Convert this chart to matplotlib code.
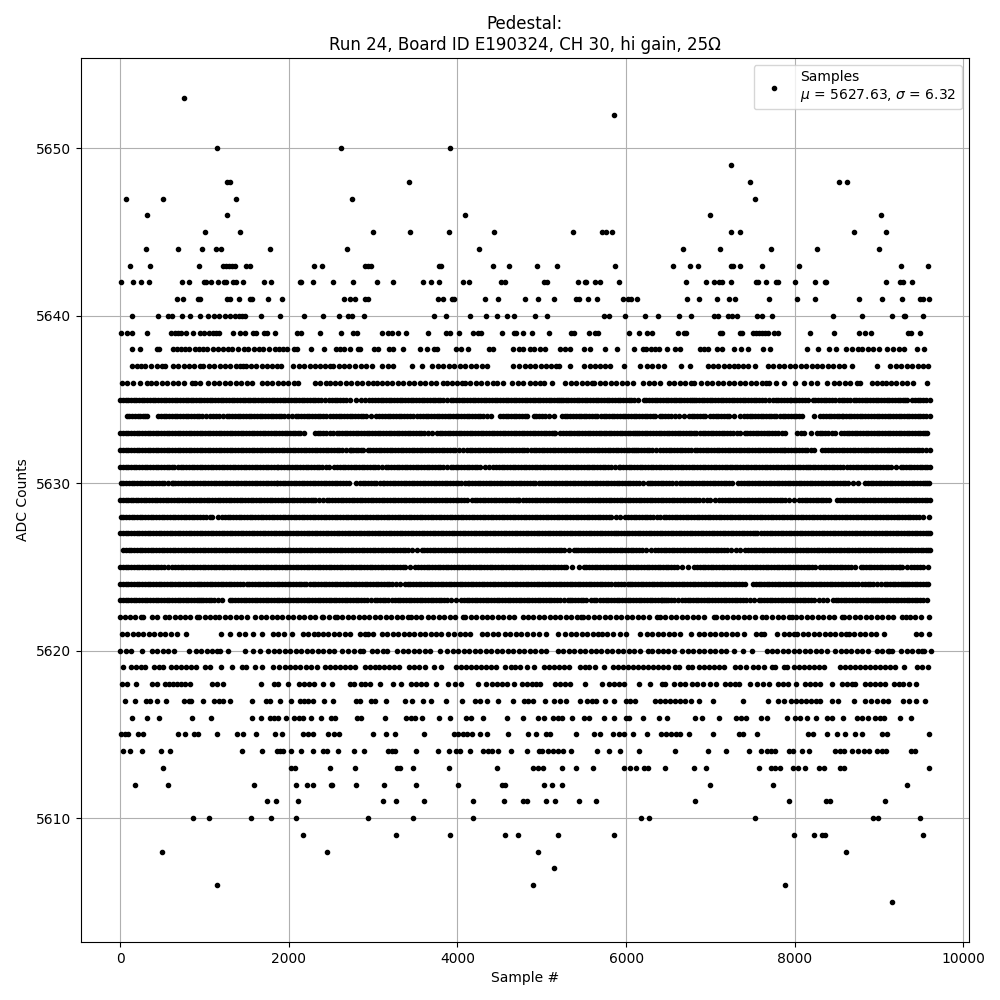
import numpy as np
import matplotlib
matplotlib.use('Agg')
import matplotlib.pyplot as plt

# Sample numbers, one list per ADC count
s5653 = [760]
s5652 = [5860]
s5650 = [1151, 2623, 3916]
s5649 = [7240]
s5648 = [1270, 1301, 3430, 7476, 8520, 8615]
s5647 = [71, 510, 1377, 2753, 7535]
s5646 = [320, 1270, 4094, 7000, 9030]
s5645 = [1009, 1424, 3003, 3442, 3905, 4439, 5365, 5715, 5765, 5830, 7240, 7350, 8700, 9082]
s5644 = [309, 688, 973, 1139, 1199, 1780, 2694, 4261, 6680, 7120, 7720, 8270, 9000]
s5643 = [119, 356, 938, 1222, 1258, 1294, 1329, 1365, 1495, 1543, 2302, 2397, 2908, 2943, 2979,
         3786, 3810, 4427, 4617, 4940, 5177, 5866, 6554, 6756, 6851, 7242, 7266, 7349, 7610, 8049,
         9260, 9580]
s5642 = [12, 154, 249, 344, 735, 818, 996, 1020, 1080, 1163, 1234, 1258, 1341, 1377, 1460, 1709,
         1792, 2132, 2148, 2290, 2528, 2765, 3050, 3240, 3596, 3691, 3786, 4071, 4142, 4522, 4569,
         5023, 5058, 5426, 5510, 5521, 5628, 5687, 5913, 6708, 6945, 7040, 7108, 7135, 7242, 7539,
         7563, 7658, 7776, 7800, 8002, 8239, 8358, 8370, 9082, 9248, 9284, 9390]
s5641 = [676, 748, 926, 949, 1270, 1305, 1412, 1543, 1567, 1757, 1923, 2658, 2730, 2785, 2908, 2943,
         3774, 3833, 3940, 3964, 4332, 4486, 4797, 4952, 5142, 5403, 5438, 5545, 5652, 5960, 6020,
         6055, 6127, 6720, 6862, 7076, 7218, 7290, 7693, 8026, 8239, 8761, 9034, 9272, 9485, 9521,
         9592]
s5640 = [135, 451, 570, 617, 736, 831, 949, 1044, 1116, 1175, 1246, 1305, 1365, 1412, 1448, 1483,
         1673, 1899, 2184, 2409, 2599, 2706, 2753, 2896, 3727, 3869, 4154, 4344, 4474, 4593, 4676,
         4920, 5058, 5735, 5794, 5984, 6222, 6376, 6625, 6775, 7040, 7088, 7206, 7254, 7313, 7551,
         7610, 7729, 8453, 8797, 9153, 9296, 9307, 9521]
s5639 = [12, 83, 142, 320, 605, 653, 688, 724, 783, 866, 949, 997, 1056, 1104, 1139, 1175, 1341, 1424,
         1483, 1578, 1614, 1709, 1745, 1839, 2101, 2148, 2374, 2623, 2765, 2813, 3109, 3181, 3228,
         3299, 3394, 3655, 3869, 3916, 4023, 4189, 4249, 4284, 4533, 4676, 4700, 4783, 4880, 5082,
         5343, 5379, 5557, 5628, 5664, 6032, 6150, 6245, 6305, 6613, 6684, 6708, 7112, 7135, 7349,
         7373, 7503, 7539, 7574, 7610, 7646, 7681, 7752, 7800, 8180, 8465, 8761, 8832, 8903, 9343,
         9379, 9485]
s5638 = [142, 233, 439, 463, 629, 676, 724, 771, 819, 890, 938, 985, 1033, 1104, 1163, 1222, 1282,
         1329, 1400, 1472, 1519, 1590, 1650, 1697, 1768, 1840, 1887, 1934, 1982, 2065, 2101, 2267,
         2421, 2563, 2611, 2658, 2730, 2825, 2848, 3015, 3062, 3192, 3240, 3359, 3560, 3644, 3727,
         3762, 3988, 4047, 4130, 4379, 4427, 4664, 4724, 4783, 4865, 4904, 4983, 5043, 5221, 5280,
         5339, 5498, 5569, 5747, 5889, 6091, 6198, 6233, 6293, 6340, 6388, 6483, 6578, 6637, 6874,
         6922, 6969, 7076, 7135, 7278, 7361, 7444, 7622, 7705, 8144, 8275, 8405, 8488, 8607, 8678,
         8749, 8797, 8868, 8928, 8999, 9098, 9165, 9236, 9296, 9450, 9533]
s5637 = [135, 202, 250, 293, 364, 439, 490, 530, 629, 690, 750, 810, 880, 945, 985, 1050, 1115, 1180,
         1240, 1305, 1370, 1420, 1460, 1487, 1550, 1610, 1680, 1737, 1804, 1860, 1903, 2053, 2115,
         2180, 2245, 2310, 2375, 2430, 2488, 2528, 2590, 2650, 2715, 2780, 2850, 2920, 2983, 3109,
         3170, 3240, 3457, 3576, 3703, 3770, 3830, 3900, 3960, 4031, 4095, 4160, 4225, 4290, 4348,
         4664, 4735, 4800, 4862, 4925, 4990, 5050, 5110, 5170, 5201, 5331, 5505, 5570, 5630, 5690,
         5750, 5806, 5972, 6162, 6249, 6310, 6380, 6447, 6649, 6756, 6969, 7030, 7095, 7160, 7220,
         7280, 7325, 7385, 7450, 7527, 7681, 7745, 7810, 7875, 7940, 8005, 8070, 8135, 8200, 8265,
         8330, 8395, 8460, 8525, 8590, 8682, 8975, 9129, 9200, 9265, 9330, 9395, 9460, 9525, 9580]
s5636 = [24, 85, 150, 233, 320, 370, 423, 494, 560, 625, 690, 755, 846, 886, 950, 1044, 1112, 1175,
         1240, 1305, 1370, 1435, 1500, 1565, 1677, 1737, 1800, 1865, 1930, 1995, 2060, 2113, 2310,
         2375, 2435, 2488, 2547, 2610, 2675, 2740, 2805, 2870, 2935, 3003, 3050, 3105, 3161, 3224,
         3290, 3355, 3420, 3485, 3550, 3615, 3680, 3745, 3833, 3873, 3930, 3990, 4051, 4091, 4150,
         4215, 4280, 4345, 4427, 4474, 4545, 4652, 4715, 4780, 4862, 4924, 4983, 5023, 5122, 5280,
         5345, 5410, 5475, 5540, 5596, 5624, 5690, 5755, 5820, 5885, 5950, 6012, 6083, 6198, 6269,
         6335, 6407, 6506, 6570, 6635, 6700, 6765, 6811, 6894, 6960, 7025, 7090, 7155, 7220, 7285,
         7350, 7415, 7480, 7545, 7610, 7654, 7693, 7784, 7879, 7998, 8108, 8188, 8259, 8386, 8465,
         8530, 8595, 8660, 8742, 8773, 8912, 8975, 9038, 9078, 9140, 9205, 9270, 9327, 9402, 9568]
s5635 = [0, 35, 65, 97, 130, 160, 190, 222, 255, 287, 320, 352, 385, 417, 450, 482, 515, 547, 580, 612,
         645, 677, 710, 742, 775, 805, 835, 866, 898, 930, 962, 995, 1027, 1060, 1092, 1125, 1157,
         1190, 1222, 1255, 1287, 1320, 1352, 1385, 1417, 1450, 1482, 1515, 1542, 1570, 1602, 1633,
         1665, 1697, 1730, 1762, 1795, 1827, 1860, 1892, 1925, 1957, 1990, 2022, 2055, 2087, 2120,
         2152, 2185, 2217, 2250, 2282, 2315, 2347, 2380, 2430, 2480, 2512, 2543, 2575, 2607, 2640,
         2683, 2726, 2793, 2856, 2905, 2947, 2991, 3023, 3055, 3087, 3120, 3152, 3185, 3217, 3250,
         3282, 3315, 3347, 3380, 3412, 3445, 3477, 3510, 3542, 3575, 3607, 3640, 3672, 3705, 3737,
         3770, 3797, 3825, 3873, 3920, 3952, 3985, 4017, 4050, 4082, 4115, 4147, 4180, 4212, 4245,
         4277, 4310, 4342, 4375, 4407, 4440, 4472, 4505, 4537, 4570, 4602, 4635, 4667, 4700, 4732,
         4765, 4797, 4830, 4862, 4895, 4923, 4952, 4983, 5016, 5050, 5082, 5115, 5147, 5180, 5204,
         5229, 5252, 5283, 5315, 5347, 5380, 5412, 5445, 5477, 5510, 5542, 5575, 5607, 5640, 5672,
         5705, 5737, 5770, 5802, 5835, 5867, 5900, 5932, 5965, 5997, 6030, 6060, 6091, 6138, 6210,
         6242, 6275, 6307, 6340, 6372, 6405, 6437, 6470, 6502, 6535, 6566, 6597, 6625, 6657, 6690,
         6722, 6755, 6779, 6803, 6830, 6862, 6895, 6927, 6960, 6992, 7025, 7057, 7090, 7122, 7155,
         7187, 7220, 7252, 7285, 7317, 7350, 7382, 7415, 7447, 7480, 7512, 7545, 7577, 7610, 7651,
         7693, 7744, 7775, 7805, 7837, 7870, 7906, 7942, 7958, 7989, 8020, 8052, 8085, 8120, 8156,
         8215, 8247, 8280, 8312, 8345, 8377, 8410, 8447, 8484, 8524, 8557, 8590, 8626, 8662, 8702,
         8733, 8765, 8797, 8830, 8862, 8895, 8927, 8960, 8992, 9025, 9057, 9090, 9122, 9155, 9187,
         9220, 9252, 9285, 9310, 9335, 9394, 9427, 9460, 9492, 9525, 9562, 9600]
s5634 = [75, 107, 140, 172, 205, 235, 265, 292, 320, 451, 483, 515, 547, 580, 612, 645, 677, 710, 742,
         775, 807, 840, 872, 905, 937, 970, 1017, 1064, 1104, 1137, 1170, 1216, 1262, 1294, 1327, 1360,
         1392, 1425, 1457, 1490, 1522, 1555, 1587, 1620, 1652, 1685, 1717, 1750, 1782, 1815, 1847,
         1880, 1912, 1945, 1989, 2033, 2081, 2113, 2145, 2177, 2210, 2242, 2275, 2307, 2340, 2372,
         2405, 2446, 2488, 2528, 2560, 2592, 2624, 2657, 2689, 2722, 2754, 2787, 2819, 2852, 2884,
         2917, 2975, 3034, 3074, 3107, 3140, 3172, 3205, 3237, 3270, 3302, 3335, 3367, 3400, 3438,
         3477, 3525, 3557, 3590, 3622, 3655, 3687, 3720, 3752, 3785, 3817, 3850, 3882, 3915, 3947,
         3980, 4012, 4045, 4077, 4110, 4142, 4175, 4207, 4240, 4272, 4305, 4350, 4395, 4506, 4538,
         4570, 4602, 4635, 4667, 4700, 4732, 4765, 4797, 4830, 4904, 4937, 4970, 5002, 5035, 5088,
         5142, 5240, 5272, 5305, 5337, 5370, 5404, 5438, 5466, 5498, 5530, 5562, 5595, 5627, 5660,
         5701, 5743, 5767, 5798, 5830, 5862, 5895, 5927, 5960, 5992, 6025, 6057, 6090, 6122, 6155,
         6187, 6220, 6252, 6285, 6316, 6348, 6400, 6432, 6465, 6497, 6530, 6579, 6629, 6692, 6744,
         6777, 6810, 6842, 6875, 6907, 6940, 6993, 7029, 7062, 7095, 7127, 7160, 7193, 7226, 7286,
         7357, 7396, 7436, 7468, 7499, 7530, 7562, 7595, 7627, 7660, 7692, 7725, 7754, 7784, 7824,
         7857, 7890, 7922, 7955, 7987, 8020, 8054, 8089, 8227, 8306, 8338, 8370, 8402, 8435, 8467,
         8500, 8531, 8563, 8575, 8607, 8640, 8672, 8705, 8737, 8770, 8802, 8835, 8871, 8907, 8939,
         8972, 9005, 9037, 9070, 9102, 9135, 9167, 9200, 9232, 9265, 9297, 9330, 9362, 9395, 9427,
         9460, 9492, 9525, 9562, 9600]
s5633 = [0, 31, 62, 95, 128, 160, 193, 225, 258, 290, 323, 355, 388, 420, 453, 485, 518, 550, 583, 615,
         648, 680, 713, 745, 778, 810, 843, 875, 908, 940, 973, 1005, 1038, 1070, 1103, 1135, 1168,
         1200, 1233, 1265, 1298, 1330, 1363, 1395, 1428, 1460, 1493, 1525, 1558, 1590, 1623, 1655,
         1688, 1720, 1753, 1785, 1818, 1850, 1883, 1915, 1948, 1980, 2013, 2045, 2078, 2105, 2132,
         2180, 2310, 2342, 2375, 2407, 2440, 2484, 2528, 2567, 2598, 2630, 2662, 2695, 2727, 2760,
         2792, 2825, 2857, 2890, 2922, 2955, 2987, 3020, 3052, 3085, 3117, 3150, 3182, 3215, 3247,
         3280, 3312, 3345, 3377, 3410, 3442, 3475, 3507, 3540, 3572, 3605, 3650, 3695, 3754, 3787,
         3820, 3852, 3885, 3917, 3950, 3982, 4015, 4047, 4080, 4112, 4145, 4177, 4210, 4242, 4275,
         4307, 4340, 4372, 4405, 4437, 4470, 4502, 4535, 4567, 4600, 4632, 4665, 4697, 4730, 4762,
         4795, 4828, 4862, 4893, 4925, 4957, 4990, 5022, 5055, 5087, 5120, 5140, 5161, 5221, 5253,
         5285, 5317, 5350, 5382, 5415, 5447, 5480, 5512, 5545, 5577, 5610, 5642, 5675, 5705, 5735,
         5759, 5792, 5825, 5857, 5890, 5922, 5955, 5987, 6020, 6052, 6085, 6107, 6130, 6150, 6185,
         6220, 6254, 6289, 6320, 6352, 6385, 6417, 6450, 6482, 6515, 6547, 6580, 6612, 6645, 6677,
         6710, 6742, 6775, 6805, 6835, 6874, 6907, 6940, 6972, 7005, 7037, 7070, 7102, 7135, 7167,
         7200, 7232, 7265, 7311, 7357, 7408, 7440, 7472, 7504, 7537, 7569, 7602, 7634, 7667, 7699,
         7732, 7764, 7797, 7844, 7891, 8022, 8070, 8108, 8188, 8267, 8298, 8330, 8362, 8395, 8439,
         8484, 8551, 8583, 8615, 8647, 8680, 8712, 8745, 8777, 8810, 8842, 8875, 8907, 8940, 8972,
         9005, 9037, 9070, 9102, 9135, 9167, 9200, 9232, 9265, 9297, 9330, 9362, 9395, 9427, 9460,
         9492, 9525, 9548, 9572]
s5632 = [0, 31, 63, 95, 128, 160, 193, 225, 258, 290, 323, 355, 388, 420, 453, 485, 518, 550, 583, 615,
         648, 680, 713, 745, 778, 810, 843, 875, 908, 940, 973, 1005, 1038, 1070, 1103, 1135, 1168,
         1200, 1233, 1265, 1298, 1330, 1363, 1395, 1428, 1460, 1493, 1525, 1558, 1590, 1622, 1655,
         1687, 1720, 1752, 1785, 1817, 1850, 1882, 1915, 1947, 1980, 2012, 2045, 2077, 2110, 2142,
         2175, 2207, 2240, 2272, 2305, 2337, 2370, 2402, 2435, 2467, 2500, 2532, 2565, 2597, 2630,
         2678, 2726, 2734, 2765, 2795, 2825, 2852, 2884, 2935, 2967, 3000, 3032, 3065, 3097, 3130,
         3162, 3195, 3227, 3260, 3292, 3325, 3357, 3390, 3422, 3455, 3487, 3520, 3552, 3585, 3617,
         3650, 3682, 3715, 3747, 3780, 3812, 3845, 3877, 3910, 3942, 3975, 4019, 4063, 4111, 4143,
         4175, 4207, 4240, 4272, 4305, 4337, 4370, 4402, 4435, 4467, 4500, 4532, 4565, 4597, 4630,
         4662, 4695, 4727, 4760, 4792, 4825, 4868, 4912, 4936, 4968, 5000, 5032, 5065, 5097, 5130,
         5162, 5195, 5227, 5260, 5292, 5325, 5357, 5390, 5422, 5455, 5487, 5520, 5552, 5585, 5617,
         5650, 5682, 5715, 5747, 5780, 5812, 5845, 5877, 5910, 5942, 5975, 6007, 6040, 6065, 6091,
         6115, 6147, 6180, 6212, 6245, 6277, 6310, 6355, 6400, 6439, 6472, 6505, 6537, 6570, 6602,
         6635, 6667, 6700, 6737, 6775, 6815, 6847, 6880, 6912, 6945, 6977, 7010, 7045, 7080, 7108,
         7140, 7172, 7204, 7237, 7269, 7302, 7334, 7367, 7399, 7432, 7464, 7497, 7529, 7562, 7594,
         7627, 7659, 7692, 7724, 7757, 7789, 7822, 7846, 7871, 7891, 7923, 7955, 7987, 8020, 8052,
         8085, 8117, 8150, 8188, 8227, 8330, 8362, 8395, 8427, 8460, 8492, 8525, 8557, 8590, 8622,
         8655, 8687, 8720, 8752, 8785, 8817, 8850, 8875, 8900, 8928, 8960, 8993, 9025, 9058, 9090,
         9123, 9155, 9188, 9220, 9253, 9285, 9318, 9350, 9383, 9415, 9448, 9480, 9513, 9556, 9600]
s5631 = [0, 31, 62, 95, 127, 160, 192, 225, 257, 290, 322, 355, 387, 420, 452, 485, 517, 550, 582, 610,
         637, 684, 716, 748, 780, 813, 845, 878, 910, 943, 975, 1008, 1040, 1073, 1105, 1138, 1170,
         1203, 1235, 1268, 1300, 1333, 1365, 1398, 1430, 1463, 1495, 1528, 1560, 1593, 1625, 1658,
         1690, 1723, 1755, 1788, 1822, 1855, 1875, 1907, 1940, 1972, 2005, 2037, 2070, 2102, 2135,
         2167, 2200, 2232, 2265, 2297, 2330, 2362, 2395, 2437, 2480, 2540, 2572, 2605, 2637, 2670,
         2702, 2735, 2767, 2800, 2832, 2865, 2897, 2930, 2962, 2995, 3027, 3060, 3105, 3149, 3181,
         3213, 3245, 3277, 3310, 3342, 3375, 3407, 3440, 3472, 3505, 3537, 3570, 3602, 3635, 3667,
         3700, 3732, 3765, 3797, 3830, 3875, 3920, 3944, 3977, 4010, 4042, 4075, 4107, 4140, 4172,
         4205, 4237, 4270, 4325, 4379, 4427, 4459, 4492, 4524, 4557, 4589, 4622, 4654, 4687, 4719,
         4752, 4784, 4817, 4849, 4882, 4914, 4947, 4979, 5012, 5044, 5077, 5109, 5142, 5174, 5207,
         5239, 5272, 5304, 5337, 5369, 5402, 5434, 5467, 5499, 5532, 5564, 5596, 5624, 5657, 5690,
         5722, 5755, 5787, 5820, 5866, 5913, 5933, 5965, 5998, 6030, 6063, 6095, 6128, 6160, 6193,
         6225, 6258, 6290, 6323, 6355, 6388, 6420, 6453, 6485, 6518, 6550, 6583, 6615, 6648, 6680,
         6713, 6745, 6778, 6810, 6843, 6875, 6908, 6940, 6973, 7005, 7038, 7070, 7103, 7135, 7168,
         7203, 7238, 7254, 7287, 7320, 7352, 7385, 7417, 7450, 7482, 7515, 7547, 7580, 7612, 7645,
         7677, 7710, 7742, 7775, 7807, 7840, 7872, 7905, 7937, 7970, 8002, 8035, 8067, 8100, 8132,
         8164, 8180, 8212, 8245, 8277, 8310, 8342, 8375, 8407, 8440, 8472, 8505, 8537, 8570, 8616,
         8662, 8690, 8722, 8755, 8787, 8820, 8852, 8885, 8917, 8950, 8982, 9015, 9047, 9080, 9112,
         9145, 9200, 9256, 9288, 9320, 9353, 9385, 9418, 9450, 9483, 9515, 9548, 9574, 9600]
s5630 = [4, 36, 68, 100, 133, 165, 198, 230, 263, 295, 328, 360, 393, 425, 458, 490, 523, 566, 609, 621,
         653, 685, 717, 750, 782, 815, 847, 880, 912, 945, 977, 1010, 1042, 1075, 1107, 1140, 1172,
         1205, 1237, 1270, 1302, 1335, 1367, 1400, 1432, 1465, 1497, 1530, 1562, 1595, 1627, 1660,
         1692, 1725, 1757, 1790, 1822, 1855, 1863, 1894, 1925, 1957, 1990, 2022, 2055, 2087, 2120,
         2152, 2185, 2217, 2250, 2282, 2315, 2347, 2380, 2412, 2445, 2477, 2510, 2542, 2575, 2607,
         2640, 2679, 2718, 2793, 2844, 2876, 2908, 2940, 2973, 3005, 3038, 3079, 3121, 3133, 3165,
         3198, 3230, 3263, 3295, 3328, 3360, 3393, 3425, 3458, 3490, 3523, 3555, 3588, 3620, 3653,
         3685, 3718, 3750, 3783, 3815, 3848, 3880, 3913, 3945, 3978, 4010, 4043, 4086, 4130, 4142,
         4174, 4207, 4239, 4272, 4304, 4337, 4369, 4402, 4434, 4467, 4499, 4532, 4564, 4597, 4629,
         4662, 4694, 4727, 4759, 4792, 4827, 4862, 4893, 4925, 4964, 5003, 5043, 5075, 5108, 5140,
         5173, 5205, 5238, 5270, 5303, 5335, 5368, 5400, 5433, 5465, 5498, 5530, 5563, 5595, 5628,
         5660, 5693, 5725, 5758, 5790, 5823, 5855, 5888, 5920, 5953, 5985, 6018, 6050, 6083, 6115,
         6148, 6202, 6257, 6281, 6313, 6346, 6378, 6411, 6443, 6476, 6508, 6541, 6593, 6645, 6669,
         6701, 6734, 6766, 6799, 6831, 6864, 6896, 6929, 6961, 6994, 7026, 7059, 7091, 7124, 7156,
         7189, 7225, 7262, 7333, 7365, 7398, 7430, 7463, 7495, 7528, 7560, 7593, 7625, 7658, 7690,
         7723, 7755, 7788, 7820, 7853, 7885, 7918, 7950, 7983, 8015, 8048, 8080, 8113, 8145, 8178,
         8210, 8243, 8275, 8308, 8340, 8373, 8405, 8438, 8470, 8503, 8535, 8568, 8600, 8633, 8691,
         8749, 8836, 8868, 8900, 8932, 8965, 8997, 9030, 9062, 9095, 9127, 9160, 9192, 9225, 9257,
         9290, 9322, 9355, 9387, 9420, 9452, 9485, 9517, 9550, 9571, 9592]
s5629 = [0, 31, 62, 93, 125, 155, 186, 214, 246, 278, 310, 343, 375, 408, 440, 473, 505, 538, 570, 603,
         635, 668, 700, 733, 765, 798, 830, 863, 895, 928, 960, 993, 1025, 1058, 1090, 1123, 1155,
         1188, 1220, 1253, 1285, 1318, 1350, 1383, 1415, 1448, 1480, 1513, 1545, 1578, 1610, 1643,
         1675, 1708, 1740, 1773, 1805, 1838, 1870, 1903, 1935, 1968, 2000, 2033, 2065, 2098, 2130,
         2163, 2195, 2228, 2259, 2290, 2310, 2360, 2401, 2449, 2480, 2510, 2545, 2580, 2614, 2647,
         2678, 2710, 2743, 2775, 2808, 2840, 2873, 2905, 2938, 2970, 3003, 3035, 3068, 3100, 3133,
         3165, 3198, 3230, 3263, 3295, 3328, 3360, 3393, 3425, 3458, 3490, 3523, 3555, 3588, 3620,
         3653, 3685, 3718, 3750, 3783, 3815, 3848, 3880, 3913, 3945, 3978, 4010, 4043, 4077, 4111,
         4170, 4202, 4235, 4267, 4300, 4332, 4365, 4397, 4430, 4462, 4495, 4527, 4560, 4592, 4625,
         4657, 4690, 4712, 4735, 4783, 4817, 4850, 4882, 4915, 4947, 4980, 5012, 5045, 5077, 5110,
         5142, 5175, 5207, 5240, 5272, 5305, 5337, 5370, 5402, 5435, 5467, 5500, 5532, 5565, 5597,
         5630, 5662, 5695, 5727, 5760, 5792, 5825, 5857, 5890, 5922, 5955, 5987, 6020, 6052, 6085,
         6117, 6150, 6182, 6215, 6247, 6280, 6312, 6345, 6377, 6410, 6442, 6475, 6507, 6540, 6572,
         6605, 6637, 6670, 6702, 6735, 6767, 6800, 6832, 6865, 6915, 6965, 6997, 7060, 7108, 7140,
         7172, 7204, 7237, 7269, 7302, 7334, 7367, 7399, 7432, 7464, 7497, 7529, 7562, 7594, 7627,
         7659, 7692, 7724, 7757, 7789, 7822, 7854, 7887, 7938, 7990, 8053, 8085, 8118, 8150, 8183,
         8215, 8248, 8280, 8313, 8341, 8370, 8409, 8504, 8536, 8568, 8600, 8633, 8665, 8698, 8730,
         8763, 8795, 8828, 8860, 8893, 8925, 8958, 8990, 9023, 9055, 9088, 9120, 9153, 9185, 9218,
         9250, 9283, 9315, 9348, 9380, 9413, 9445, 9478, 9510, 9543, 9571, 9600]
s5628 = [4, 36, 68, 100, 133, 165, 198, 230, 263, 295, 328, 360, 393, 425, 458, 490, 523, 555, 588, 620,
         653, 685, 718, 750, 783, 815, 848, 880, 913, 945, 978, 1021, 1064, 1092, 1159, 1210, 1242,
         1275, 1307, 1340, 1372, 1405, 1437, 1470, 1502, 1535, 1567, 1600, 1632, 1665, 1697, 1730,
         1762, 1795, 1827, 1860, 1892, 1925, 1957, 1990, 2022, 2055, 2087, 2120, 2152, 2185, 2217,
         2250, 2282, 2315, 2347, 2380, 2412, 2445, 2477, 2510, 2542, 2575, 2607, 2640, 2672, 2705,
         2737, 2770, 2802, 2835, 2867, 2900, 2932, 2965, 2997, 3030, 3062, 3095, 3127, 3160, 3192,
         3225, 3257, 3290, 3322, 3355, 3387, 3420, 3452, 3485, 3517, 3550, 3582, 3615, 3647, 3680,
         3712, 3745, 3777, 3810, 3842, 3875, 3907, 3940, 3972, 4005, 4037, 4070, 4102, 4135, 4167,
         4200, 4232, 4265, 4297, 4330, 4362, 4395, 4427, 4460, 4492, 4525, 4557, 4590, 4622, 4655,
         4687, 4720, 4752, 4785, 4817, 4850, 4882, 4915, 4947, 4980, 5012, 5045, 5077, 5110, 5142,
         5175, 5207, 5240, 5272, 5305, 5337, 5370, 5402, 5435, 5467, 5500, 5532, 5565, 5597, 5630,
         5662, 5695, 5727, 5760, 5792, 5825, 5879, 5933, 5992, 6024, 6057, 6089, 6122, 6154, 6187,
         6219, 6252, 6284, 6317, 6362, 6407, 6447, 6479, 6512, 6544, 6577, 6609, 6642, 6674, 6707,
         6739, 6772, 6804, 6837, 6869, 6902, 6934, 6967, 6999, 7032, 7064, 7097, 7129, 7162, 7194,
         7227, 7259, 7292, 7324, 7357, 7389, 7422, 7454, 7487, 7519, 7552, 7584, 7617, 7649, 7682,
         7714, 7747, 7779, 7812, 7844, 7877, 7909, 7942, 7974, 8007, 8039, 8072, 8104, 8137, 8169,
         8202, 8234, 8267, 8299, 8332, 8364, 8397, 8429, 8462, 8494, 8527, 8559, 8592, 8624, 8657,
         8689, 8722, 8754, 8787, 8819, 8852, 8884, 8917, 8949, 8982, 9014, 9047, 9079, 9112, 9144,
         9177, 9209, 9242, 9274, 9307, 9339, 9372, 9404, 9437, 9477, 9517, 9596]
s5627 = [0, 32, 64, 96, 129, 161, 194, 226, 259, 291, 324, 356, 389, 421, 454, 486, 519, 551, 584, 616,
         649, 681, 714, 746, 779, 811, 844, 876, 909, 941, 974, 1006, 1039, 1071, 1104, 1136, 1169,
         1201, 1234, 1266, 1299, 1331, 1364, 1396, 1429, 1461, 1494, 1526, 1559, 1591, 1624, 1656,
         1689, 1721, 1754, 1786, 1819, 1851, 1884, 1916, 1949, 1981, 2014, 2046, 2079, 2111, 2144,
         2176, 2209, 2241, 2274, 2306, 2339, 2371, 2404, 2436, 2469, 2501, 2534, 2566, 2599, 2631,
         2664, 2696, 2729, 2761, 2794, 2826, 2859, 2891, 2924, 2956, 2989, 3021, 3054, 3086, 3119,
         3151, 3184, 3216, 3249, 3281, 3314, 3346, 3379, 3411, 3444, 3476, 3509, 3541, 3574, 3606,
         3639, 3671, 3704, 3736, 3769, 3801, 3834, 3866, 3899, 3931, 3964, 3996, 4029, 4061, 4094,
         4126, 4159, 4191, 4224, 4256, 4289, 4321, 4354, 4386, 4419, 4451, 4484, 4516, 4549, 4581,
         4614, 4646, 4679, 4711, 4744, 4776, 4809, 4841, 4874, 4906, 4939, 4971, 5004, 5036, 5069,
         5101, 5134, 5166, 5199, 5231, 5264, 5296, 5329, 5361, 5394, 5426, 5459, 5491, 5524, 5556,
         5589, 5621, 5654, 5686, 5719, 5751, 5784, 5823, 5862, 5877, 5909, 5942, 5974, 6007, 6039,
         6072, 6104, 6137, 6169, 6202, 6234, 6267, 6299, 6332, 6364, 6397, 6429, 6462, 6494, 6527,
         6559, 6592, 6624, 6657, 6689, 6722, 6754, 6787, 6819, 6852, 6884, 6917, 6949, 6982, 7014,
         7047, 7079, 7112, 7144, 7177, 7209, 7242, 7274, 7307, 7339, 7372, 7404, 7437, 7469, 7502,
         7528, 7555, 7606, 7638, 7670, 7702, 7735, 7767, 7800, 7832, 7865, 7897, 7930, 7962, 7995,
         8027, 8060, 8092, 8125, 8157, 8190, 8222, 8255, 8287, 8320, 8352, 8385, 8417, 8450, 8482,
         8515, 8547, 8580, 8612, 8645, 8677, 8710, 8742, 8775, 8807, 8840, 8872, 8905, 8937, 8970,
         9002, 9035, 9067, 9100, 9132, 9165, 9197, 9230, 9262, 9295, 9327, 9360, 9392, 9425, 9457,
         9490, 9522, 9555, 9577, 9600]
s5626 = [36, 68, 100, 132, 165, 197, 230, 262, 295, 327, 360, 392, 425, 457, 490, 522, 555, 587, 620,
         652, 685, 717, 750, 782, 815, 847, 880, 912, 945, 977, 1010, 1042, 1075, 1107, 1140, 1172,
         1205, 1237, 1270, 1302, 1335, 1367, 1400, 1432, 1465, 1497, 1530, 1562, 1595, 1627, 1660,
         1692, 1725, 1757, 1790, 1822, 1855, 1887, 1920, 1952, 1985, 2017, 2050, 2082, 2115, 2147,
         2180, 2212, 2245, 2277, 2310, 2342, 2375, 2407, 2440, 2472, 2505, 2537, 2570, 2602, 2635,
         2667, 2700, 2732, 2765, 2797, 2830, 2862, 2895, 2927, 2960, 2992, 3025, 3057, 3090, 3122,
         3155, 3187, 3220, 3252, 3285, 3317, 3350, 3382, 3415, 3466, 3517, 3576, 3608, 3640, 3672,
         3705, 3737, 3770, 3802, 3835, 3867, 3900, 3932, 3965, 3997, 4030, 4062, 4095, 4127, 4160,
         4192, 4225, 4257, 4290, 4322, 4355, 4387, 4420, 4452, 4485, 4517, 4550, 4582, 4615, 4647,
         4680, 4712, 4745, 4777, 4810, 4842, 4875, 4907, 4940, 4972, 5005, 5037, 5070, 5102, 5135,
         5167, 5200, 5232, 5265, 5322, 5379, 5403, 5435, 5468, 5500, 5533, 5565, 5598, 5630, 5663,
         5695, 5728, 5760, 5793, 5825, 5858, 5890, 5923, 5955, 5988, 6020, 6053, 6085, 6118, 6150,
         6183, 6242, 6301, 6348, 6380, 6412, 6444, 6477, 6509, 6542, 6574, 6607, 6639, 6672, 6704,
         6737, 6769, 6802, 6834, 6867, 6899, 6932, 6964, 6997, 7029, 7062, 7094, 7127, 7159, 7192,
         7250, 7309, 7349, 7416, 7448, 7480, 7512, 7545, 7577, 7610, 7642, 7675, 7707, 7740, 7772,
         7805, 7837, 7870, 7902, 7935, 7967, 8000, 8032, 8065, 8097, 8130, 8162, 8195, 8227, 8260,
         8292, 8325, 8357, 8390, 8422, 8455, 8487, 8520, 8552, 8585, 8617, 8650, 8682, 8715, 8747,
         8780, 8812, 8845, 8877, 8910, 8942, 8975, 9007, 9040, 9072, 9105, 9137, 9170, 9202, 9235,
         9267, 9300, 9332, 9365, 9397, 9430, 9462, 9495, 9527, 9560, 9580, 9600]
s5625 = [0, 31, 63, 95, 128, 160, 193, 225, 258, 290, 323, 355, 388, 420, 453, 485, 518, 563, 609, 653,
         684, 716, 748, 781, 813, 846, 878, 911, 943, 976, 1008, 1041, 1073, 1106, 1138, 1171, 1203,
         1236, 1268, 1301, 1333, 1366, 1398, 1431, 1463, 1496, 1528, 1561, 1593, 1626, 1658, 1691,
         1723, 1756, 1788, 1821, 1853, 1886, 1918, 1951, 1983, 2016, 2048, 2081, 2113, 2146, 2178,
         2211, 2243, 2276, 2308, 2341, 2373, 2406, 2438, 2471, 2503, 2536, 2568, 2601, 2633, 2666,
         2698, 2731, 2763, 2796, 2828, 2861, 2893, 2926, 2958, 2991, 3023, 3056, 3088, 3121, 3153,
         3186, 3218, 3251, 3283, 3316, 3348, 3381, 3439, 3497, 3537, 3569, 3601, 3633, 3666, 3698,
         3731, 3763, 3796, 3828, 3861, 3893, 3926, 3958, 3991, 4023, 4056, 4088, 4121, 4153, 4186,
         4218, 4251, 4283, 4316, 4348, 4381, 4413, 4446, 4478, 4511, 4543, 4576, 4608, 4641, 4673,
         4706, 4738, 4771, 4803, 4836, 4868, 4901, 4933, 4966, 4998, 5031, 5063, 5096, 5128, 5161,
         5193, 5226, 5259, 5292, 5355, 5446, 5497, 5529, 5561, 5593, 5626, 5658, 5691, 5723, 5756,
         5788, 5821, 5853, 5886, 5918, 5951, 5983, 6016, 6048, 6081, 6113, 6146, 6178, 6211, 6243,
         6276, 6308, 6341, 6373, 6406, 6438, 6471, 6503, 6536, 6568, 6601, 6668, 6736, 6811, 6843,
         6875, 6907, 6940, 6972, 7005, 7037, 7070, 7102, 7135, 7167, 7200, 7232, 7265, 7297, 7330,
         7362, 7395, 7427, 7460, 7492, 7525, 7557, 7590, 7622, 7655, 7687, 7720, 7752, 7785, 7817,
         7850, 7882, 7915, 7947, 7980, 8012, 8045, 8077, 8110, 8142, 8175, 8211, 8247, 8306, 8338,
         8370, 8402, 8435, 8467, 8500, 8532, 8565, 8597, 8630, 8670, 8710, 8781, 8813, 8845, 8877,
         8910, 8942, 8975, 9007, 9040, 9072, 9105, 9137, 9170, 9202, 9235, 9255, 9276, 9327, 9382,
         9416, 9450, 9487, 9525, 9580]
s5624 = [0, 32, 64, 96, 129, 161, 194, 226, 259, 291, 324, 356, 389, 421, 454, 486, 519, 551, 584, 616,
         649, 681, 714, 746, 779, 811, 844, 875, 906, 930, 962, 994, 1026, 1059, 1091, 1124, 1156,
         1189, 1221, 1254, 1286, 1319, 1351, 1384, 1422, 1460, 1499, 1531, 1563, 1595, 1628, 1660,
         1693, 1725, 1758, 1790, 1823, 1855, 1888, 1920, 1953, 1985, 2018, 2050, 2083, 2115, 2148,
         2176, 2204, 2251, 2283, 2315, 2347, 2380, 2412, 2445, 2477, 2510, 2542, 2575, 2607, 2640,
         2672, 2705, 2737, 2770, 2802, 2835, 2867, 2900, 2932, 2965, 2997, 3030, 3062, 3095, 3127,
         3160, 3192, 3225, 3272, 3319, 3378, 3410, 3442, 3474, 3507, 3539, 3572, 3604, 3637, 3669,
         3702, 3734, 3767, 3799, 3832, 3864, 3897, 3929, 3962, 3994, 4027, 4059, 4092, 4124, 4157,
         4189, 4222, 4254, 4287, 4319, 4352, 4384, 4417, 4449, 4482, 4514, 4547, 4579, 4612, 4644,
         4677, 4710, 4743, 4778, 4810, 4842, 4874, 4907, 4939, 4972, 5004, 5037, 5069, 5102, 5134,
         5167, 5199, 5232, 5264, 5297, 5329, 5362, 5394, 5427, 5459, 5492, 5524, 5557, 5589, 5622,
         5654, 5687, 5719, 5752, 5787, 5822, 5873, 5905, 5937, 5978, 6020, 6043, 6075, 6107, 6139,
         6172, 6204, 6237, 6269, 6302, 6334, 6367, 6399, 6432, 6464, 6497, 6529, 6562, 6594, 6627,
         6659, 6692, 6724, 6757, 6789, 6822, 6854, 6887, 6919, 6952, 6984, 7017, 7049, 7082, 7114,
         7147, 7179, 7212, 7244, 7277, 7309, 7342, 7379, 7416, 7507, 7539, 7571, 7603, 7636, 7668,
         7701, 7733, 7766, 7798, 7831, 7863, 7896, 7928, 7961, 7993, 8026, 8058, 8091, 8123, 8156,
         8188, 8221, 8253, 8286, 8318, 8351, 8383, 8416, 8448, 8481, 8513, 8546, 8578, 8611, 8643,
         8676, 8712, 8749, 8800, 8832, 8864, 8896, 8929, 8977, 9026, 9066, 9098, 9130, 9162, 9195,
         9227, 9260, 9281, 9303, 9327, 9359, 9391, 9423, 9456, 9488, 9521, 9553, 9586]
s5623 = [0, 31, 62, 94, 127, 159, 192, 224, 257, 289, 322, 354, 387, 419, 452, 484, 517, 549, 582, 614,
         647, 679, 712, 744, 777, 809, 842, 874, 907, 930, 954, 985, 1017, 1049, 1081, 1114, 1158,
         1203, 1302, 1331, 1361, 1400, 1432, 1464, 1496, 1529, 1561, 1594, 1626, 1659, 1691, 1724,
         1756, 1789, 1821, 1854, 1886, 1919, 1951, 1984, 2016, 2049, 2081, 2114, 2146, 2179, 2211,
         2244, 2276, 2309, 2341, 2374, 2406, 2439, 2471, 2504, 2532, 2560, 2599, 2631, 2663, 2695,
         2728, 2760, 2793, 2825, 2858, 2890, 2923, 2972, 3022, 3050, 3082, 3114, 3146, 3179, 3219,
         3260, 3291, 3323, 3355, 3387, 3420, 3452, 3485, 3517, 3550, 3582, 3615, 3647, 3680, 3712,
         3745, 3777, 3810, 3842, 3875, 3929, 3984, 4043, 4075, 4107, 4139, 4172, 4204, 4237, 4269,
         4302, 4334, 4367, 4399, 4432, 4464, 4497, 4529, 4562, 4594, 4627, 4659, 4692, 4724, 4757,
         4789, 4822, 4854, 4887, 4919, 4952, 4984, 5017, 5049, 5082, 5114, 5147, 5179, 5212, 5260,
         5308, 5331, 5363, 5395, 5427, 5460, 5494, 5529, 5585, 5616, 5648, 5695, 5727, 5759, 5791,
         5824, 5856, 5889, 5921, 5954, 5986, 6019, 6051, 6084, 6116, 6149, 6181, 6214, 6246, 6279,
         6311, 6344, 6376, 6409, 6432, 6455, 6470, 6502, 6534, 6573, 6613, 6665, 6697, 6729, 6761,
         6794, 6826, 6859, 6891, 6924, 6956, 6989, 7021, 7054, 7092, 7131, 7159, 7191, 7223, 7255,
         7288, 7320, 7353, 7385, 7418, 7470, 7523, 7574, 7606, 7638, 7670, 7703, 7735, 7768, 7800,
         7833, 7865, 7898, 7930, 7963, 7995, 8028, 8060, 8093, 8125, 8158, 8196, 8235, 8287, 8340,
         8378, 8453, 8485, 8517, 8549, 8582, 8614, 8647, 8679, 8712, 8744, 8777, 8809, 8842, 8874,
         8907, 8929, 8951, 8971, 9003, 9035, 9067, 9100, 9132, 9165, 9197, 9230, 9262, 9295, 9327,
         9360, 9392, 9425, 9457, 9490, 9527, 9564]
s5622 = [0, 60, 120, 180, 241, 265, 372, 436, 530, 582, 645, 708, 767, 830, 906, 938, 1000, 1065, 1123,
         1175, 1239, 1304, 1369, 1434, 1499, 1598, 1665, 1729, 1794, 1859, 1924, 1989, 2054, 2119,
         2184, 2249, 2314, 2389, 2409, 2473, 2548, 2567, 2631, 2696, 2761, 2826, 2891, 2956, 3021,
         3086, 3151, 3216, 3281, 3346, 3418, 3446, 3510, 3564, 3648, 3712, 3777, 3842, 3907, 3972,
         4071, 4091, 4155, 4220, 4285, 4350, 4415, 4480, 4545, 4610, 4675, 4783, 4833,
         4897, 4962, 5027, 5092, 5157, 5222, 5287, 5352, 5417, 5466, 5490, 5554, 5619, 5684, 5749,
         5814, 5879, 5944, 6009, 6074, 6139, 6204, 6269, 6368, 6400, 6464, 6529, 6594, 6659, 6724,
         6789, 6854, 6919, 7040, 7072, 7136, 7201, 7266, 7331, 7396, 7461, 7526, 7614, 7661, 7733,
         7797, 7862, 7927, 7974, 8014, 8078, 8143, 8208, 8273, 8338, 8403, 8468, 8563, 8583, 8647,
         8712, 8777, 8842, 8907, 8972, 9037, 9102, 9167, 9268, 9323, 9367, 9431, 9496, 9588]
s5621 = [16, 80, 145, 210, 275, 340, 405, 470, 535, 600, 676, 779, 1191, 1302, 1412, 1476, 1578, 1685,
         1808, 1872, 1937, 2033, 2164, 2228, 2293, 2350, 2401, 2465, 2530, 2595, 2660, 2726, 2844,
         2908, 2943, 3003, 3101, 3165, 3230, 3295, 3360, 3425, 3490, 3556, 3616, 3680, 3745, 3810,
         3893, 3960, 4024, 4089, 4150, 4288, 4352, 4417, 4482, 4565, 4625, 4689, 4754, 4819, 4900,
         4964, 5047, 5189, 5280, 5344, 5409, 5474, 5539, 5604, 5664, 5715, 5779, 5844, 5933, 5996,
         6162, 6249, 6313, 6378, 6443, 6508, 6573, 6638, 6771, 6862, 6926, 6991, 7056, 7121, 7186,
         7251, 7316, 7396, 7539, 7603, 7634, 7792, 7871, 7935, 7990, 8030, 8094, 8159, 8224, 8289,
         8354, 8419, 8484, 8549, 8603, 8643, 8707, 8772, 8837, 8902, 8959, 9058, 9434, 9498, 9592]
s5620 = [0, 63, 123, 261, 372, 436, 501, 566, 637, 819, 898, 962, 1027, 1092, 1143, 1187, 1282, 1480,
         1570, 1662, 1756, 1820, 1885, 1950, 2015, 2080, 2145, 2210, 2275, 2340, 2405, 2470, 2535,
         2627, 2706, 2777, 2841, 2884, 2983, 3047, 3112, 3169, 3288, 3352, 3417, 3482, 3547, 3612,
         3677, 3794, 3881, 3945, 4010, 4075, 4140, 4205, 4270, 4335, 4400, 4465, 4530, 4595, 4660,
         4725, 4790, 4855, 4920, 4985, 5047, 5189, 5253, 5318, 5383, 5448, 5513, 5578, 5643, 5708,
         5773, 5838, 5903, 5968, 6033, 6098, 6163, 6257, 6309, 6373, 6438, 6503, 6568, 6665, 6732,
         6796, 6861, 6926, 6991, 7056, 7121, 7186, 7278, 7385, 7495, 7666, 7730, 7795, 7860, 7925,
         7990, 8055, 8120, 8185, 8250, 8315, 8386, 8484, 8544, 8608, 8673, 8738, 8803, 8868, 8971,
         9038, 9102, 9117, 9157, 9264, 9328, 9393, 9458, 9513, 9533, 9612]
s5619 = [36, 131, 190, 249, 297, 404, 463, 510, 605, 665, 724, 783, 843, 902, 1009, 1068, 1199, 1329,
         1448, 1495, 1602, 1685, 1816, 1887, 1958, 2018, 2077, 2136, 2207, 2267, 2338, 2433, 2492,
         2552, 2611, 2670, 2730, 2789, 2908, 2967, 3026, 3074, 3133, 3192, 3252, 3311, 3430, 3489,
         3548, 3620, 3727, 3810, 3988, 4047, 4106, 4166, 4225, 4284, 4344, 4403, 4462, 4569, 4629,
         4688, 4747, 4822, 4904, 5023, 5082, 5142, 5201, 5260, 5320, 5450, 5510, 5557, 5628, 5735,
         5842, 5901, 5960, 6020, 6079, 6138, 6198, 6257, 6316, 6376, 6435, 6494, 6578, 6625, 6732,
         6779, 6862, 6922, 6981, 7040, 7100, 7159, 7290, 7349, 7420, 7503, 7563, 7634, 7729, 7765,
         7871, 7907, 7990, 8049, 8108, 8168, 8227, 8287, 8346, 8536, 8595, 8654, 8714, 8773, 8832,
         8892, 8951, 9011, 9070, 9129, 9189, 9296, 9450, 9509, 9580]
s5618 = [24, 83, 190, 380, 439, 534, 582, 629, 676, 724, 771, 831, 1092, 1151, 1222, 1673, 1828, 1875,
         1994, 2124, 2184, 2243, 2302, 2409, 2516, 2730, 2777, 2860, 2908, 2967, 3086, 3240, 3335,
         3453, 3513, 3572, 3632, 3750, 3893, 3976, 4047, 4249, 4344, 4415, 4474, 4533, 4593, 4676,
         4771, 4830, 4880, 4928, 4975, 5153, 5221, 5272, 5339, 5510, 5711, 5794, 5854, 5913, 5972,
         6150, 6281, 6423, 6459, 6566, 6637, 6696, 6779, 6839, 6910, 6993, 7064, 7171, 7230, 7290,
         7337, 7468, 7551, 7622, 7693, 7800, 7859, 7919, 8014, 8120, 8180, 8239, 8299, 8441, 8560,
         8619, 8678, 8714, 8832, 8892, 8951, 9011, 9070, 9177, 9236, 9284, 9355, 9438]
s5617 = [59, 178, 309, 356, 439, 546, 760, 819, 843, 985, 1116, 1175, 1222, 1305, 1567, 1729, 1776,
         1899, 2029, 2132, 2184, 2231, 2290, 2421, 2528, 2801, 2848, 2975, 3026, 3157, 3382, 3466,
         3596, 3691, 3869, 4059, 4213, 4272, 4356, 4486, 4664, 4786, 4833, 4892, 5035, 5142, 5213,
         5284, 5450, 5533, 5593, 5640, 5747, 5854, 5996, 6043, 6103, 6340, 6400, 6459, 6518, 6578,
         6637, 6696, 6767, 6862, 7029, 7385, 7681, 7800, 7871, 7954, 8014, 8073, 8132, 8192, 8251,
         8299, 8441, 8512, 8702, 8832, 8903, 8975, 9046, 9105, 9284, 9355, 9438, 9545]
s5616 = [142, 320, 463, 854, 1080, 1567, 1673, 1780, 1828, 1875, 1970, 2065, 2125, 2172, 2267, 2385,
         2504, 2552, 2813, 2860, 3145, 3394, 3453, 3501, 3584, 3786, 3916, 4106, 4166, 4308, 4593,
         4774, 4952, 5023, 5130, 5189, 5236, 5355, 5498, 5557, 5735, 5854, 5996, 6032, 6198, 6388,
         6491, 6815, 6898, 7100, 7302, 7361, 7420, 7598, 7670, 7907, 8002, 8061, 8144, 8251, 8382,
         8441, 8571, 8737, 8797, 8868, 8951, 9011, 9058, 9248, 9379]
s5615 = [12, 59, 95, 214, 273, 688, 771, 878, 926, 1151, 1389, 1460, 1614, 1840, 1923, 2172, 2231, 2290,
         2469, 2540, 2599, 3003, 3157, 3264, 3608, 3964, 4011, 4071, 4111, 4177, 4268, 4348, 4605,
         4842, 4928, 5047, 5094, 5403, 5616, 5687, 5842, 5913, 5972, 6079, 6245, 6411, 6471, 6530,
         6590, 6637, 6744, 7029, 7337, 7385, 7551, 8156, 8215, 8382, 8500, 8595, 8714, 8801, 9034,
         9098, 9592]
s5614 = [36, 119, 261, 487, 593, 1448, 1685, 1863, 1899, 1934, 2029, 2148, 2290, 2409, 2457, 2587,
         2777, 2896, 3181, 3228, 3264, 3513, 3774, 3905, 3988, 4035, 4154, 4308, 4367, 4415, 4486,
         4640, 4830, 4964, 5000, 5070, 5130, 5189, 5248, 5343, 5652, 5794, 5925, 6150, 6578, 6969,
         7183, 7456, 7598, 7670, 7717, 7765, 7931, 7978, 8085, 8168, 8476, 8536, 8583, 8678, 8749,
         8821, 8880, 8975, 9034, 9082, 9379, 9426]
s5613 = [510, 2029, 2077, 2492, 2789, 3287, 3323, 3477, 3905, 4474, 4892, 4952, 5011, 5236, 5403, 5604,
         5972, 6043, 6115, 6210, 6257, 6459, 6803, 6945, 7574, 7717, 7765, 7824, 7978, 8038, 8120,
         8287, 8346, 8536, 8583, 9592]
s5612 = [178, 570, 1590, 2089, 2219, 2290, 2504, 2516, 2801, 3133, 3513, 4011, 4533, 4569, 5023, 5118,
         5236, 6993, 7741, 9331]
s5611 = [1745, 1851, 2113, 3121, 3276, 3608, 4189, 4557, 4783, 4821, 5047, 5153, 5438, 5640, 6815, 7931,
         8370, 8417, 9070]
s5610 = [866, 1056, 1555, 1792, 2089, 2943, 3477, 4189, 6174, 6269, 7527, 8927, 8987, 9485]
s5609 = [2172, 3276, 3916, 4569, 4723, 5189, 5854, 7990, 8227, 8322, 8358, 9521]
s5608 = [498, 2450, 4952, 8607]
s5607 = [5142]
s5606 = [1151, 4892, 7883]
s5605 = [9153]

counts = [5653, 5652, 5650, 5649, 5648, 5647, 5646, 5645, 5644, 5643, 5642, 5641, 5640, 5639, 5638,
          5637, 5636, 5635, 5634, 5633, 5632, 5631, 5630, 5629, 5628, 5627, 5626, 5625, 5624, 5623,
          5622, 5621, 5620, 5619, 5618, 5617, 5616, 5615, 5614, 5613, 5612, 5611, 5610, 5609, 5608,
          5607, 5606, 5605]
rows = [s5653, s5652, s5650, s5649, s5648, s5647, s5646, s5645, s5644, s5643, s5642, s5641, s5640,
        s5639, s5638, s5637, s5636, s5635, s5634, s5633, s5632, s5631, s5630, s5629, s5628, s5627,
        s5626, s5625, s5624, s5623, s5622, s5621, s5620, s5619, s5618, s5617, s5616, s5615, s5614,
        s5613, s5612, s5611, s5610, s5609, s5608, s5607, s5606, s5605]

x = np.concatenate([np.array(r) for r in rows])
y = np.concatenate([np.full(len(r), c) for r, c in zip(rows, counts)])

plt.figure(figsize=(10, 10), dpi=100)
plt.plot(x, y, 'k.', label='Samples\n$\\mu$ = 5627.63, $\\sigma$ = 6.32')
plt.title('Pedestal:\nRun 24, Board ID E190324, CH 30, hi gain, 25Ω')
plt.xlabel('Sample #')
plt.ylabel('ADC Counts')
plt.xlim(-472, 10068)
plt.ylim(5602.6, 5655.4)
plt.grid(True)
plt.legend(loc='upper right', handlelength=2.15)
plt.subplots_adjust(left=0.0805, right=0.969, top=0.942, bottom=0.058)
plt.savefig('out.png', dpi=100)
plt.close()
